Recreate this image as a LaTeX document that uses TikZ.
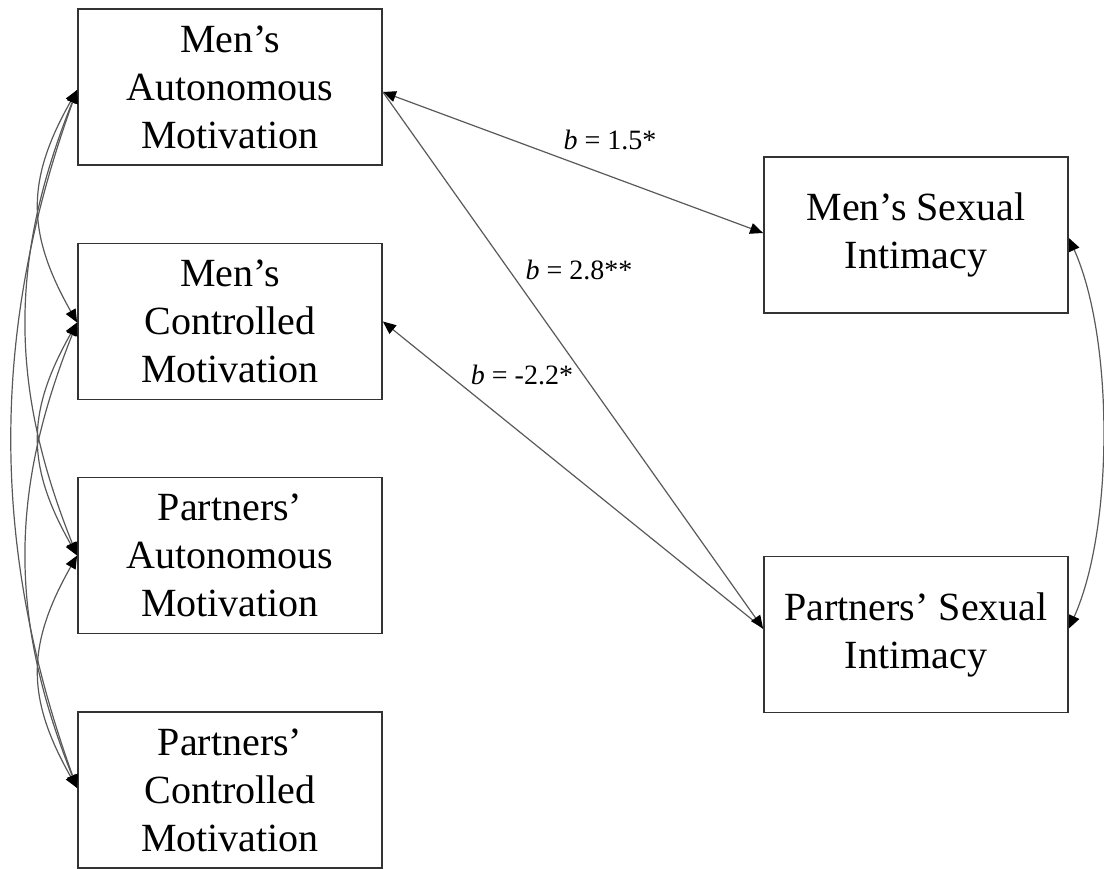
\documentclass[tikz,border=0pt]{standalone}
\usepackage{fontspec}
\setmainfont{Liberation Serif}
\usetikzlibrary{arrows.meta,calc}
\begin{document}
\begin{tikzpicture}[x=1pt,y=-1pt,
  box/.style={draw=black!80,line width=1.8pt,minimum width=304pt,minimum height=156pt,
    align=center,inner sep=0pt,font=\fontsize{40}{48}\selectfont},
  tip/.tip={Triangle[length=13pt,width=11pt,fill=black,color=black]},
  conn/.style={draw=black!65,line width=1.2pt,tip-tip},
  oneway/.style={draw=black!65,line width=1.2pt,-tip},
  lab/.style={font=\fontsize{28}{32}\selectfont,inner sep=0pt}]
\useasboundingbox (0,0) rectangle (1104,869);
\node[box] (b1) at (230,87) {Men’s\\Autonomous\\Motivation};
\node[box] (b2) at (230,321.5) {Men’s\\Controlled\\Motivation};
\node[box] (b3) at (230,555.5) {Partners’\\Autonomous\\Motivation};
\node[box] (b4) at (230,790) {Partners’\\Controlled\\Motivation};
\node[box] (m) at (916,235) {Men’s Sexual\\Intimacy};
\node[box] (p) at (916,634.5) {Partners’ Sexual\\Intimacy};
% left correlations
\draw[conn] ([yshift=-3pt]b1.west) .. controls ++(-51,90) and ++(-51,-90) .. ([yshift=-1pt]b2.west);
\draw[conn] ([yshift=-1pt]b2.west) .. controls ++(-51,90) and ++(-51,-90) .. ([yshift=0pt]b3.west);
\draw[conn] ([yshift=0pt]b3.west) .. controls ++(-51,90) and ++(-51,-90) .. ([yshift=2pt]b4.west);
\draw[conn] ([yshift=-3pt]b1.west) .. controls ++(-68,170) and ++(-68,-170) .. ([yshift=0pt]b3.west);
\draw[conn] ([yshift=-1pt]b2.west) .. controls ++(-68,170) and ++(-68,-170) .. ([yshift=2pt]b4.west);
\draw[conn] ([yshift=-3pt]b1.west) .. controls ++(-87,240) and ++(-87,-240) .. ([yshift=2pt]b4.west);
% right correlation
\draw[conn] ([yshift=-3pt]m.east) .. controls ++(45,100) and ++(45,-100) .. ([yshift=6pt]p.east);
% paths
\draw[conn] ([yshift=-5pt]b1.east) -- ([yshift=2pt]m.west);
\draw[oneway] ([yshift=6pt]p.west) -- ([yshift=0pt]b2.east);
\draw[oneway] ([yshift=-5pt]b1.east) -- ([yshift=6pt]p.west);
\node[lab] (l1) at (610,140) {\textit{b} = 1.5*};
\node[lab] (l2) at (579,270) {\textit{b} = 2.8**};
\node[lab] (l3) at (522,375) {\textit{b} = -2.2*};
\end{tikzpicture}
\end{document}
